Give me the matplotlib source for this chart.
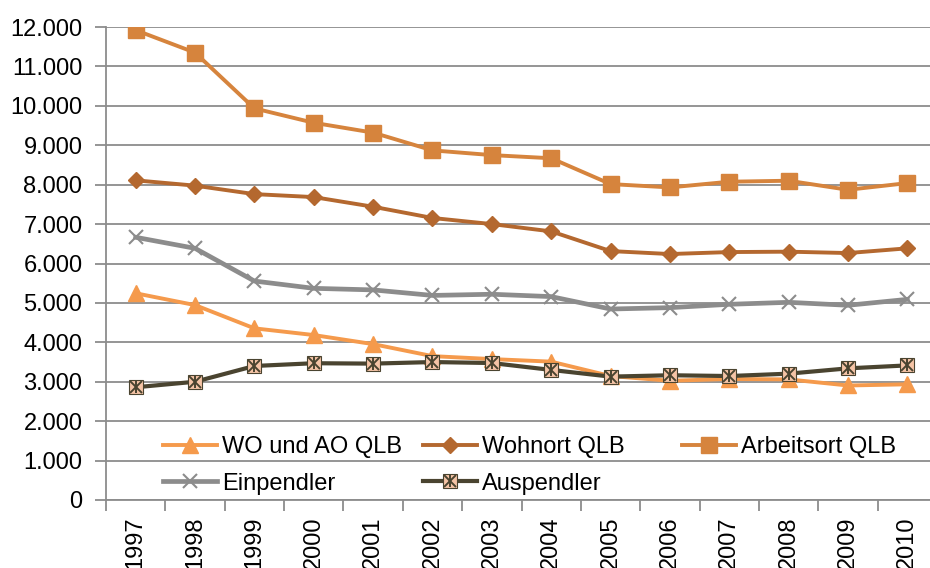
import numpy as np
import matplotlib
matplotlib.use('Agg')
import matplotlib.pyplot as plt
from matplotlib.ticker import FuncFormatter, FixedLocator
from matplotlib.legend_handler import HandlerTuple
from matplotlib.lines import Line2D

plt.rcParams['font.family'] = ['Liberation Sans', 'DejaVu Sans']

years = ['1997', '1998', '1999', '2000', '2001', '2002', '2003',
         '2004', '2005', '2006', '2007', '2008', '2009', '2010']

wo_ao = [5245, 4945, 4355, 4185, 3955, 3650, 3575, 3510, 3145, 3025, 3070, 3060, 2905, 2935]
wohnort = [8110, 7975, 7760, 7685, 7440, 7155, 7000, 6815, 6315, 6240, 6290, 6300, 6265, 6385]
arbeitsort = [11920, 11350, 9935, 9570, 9320, 8870, 8750, 8670, 8015, 7930, 8075, 8100, 7870, 8040]
einpendler = [6665, 6385, 5555, 5370, 5330, 5190, 5220, 5160, 4845, 4880, 4965, 5015, 4940, 5090]
auspendler = [2860, 3000, 3400, 3470, 3460, 3500, 3475, 3300, 3130, 3165, 3145, 3205, 3340, 3415]

x = np.arange(len(years))
grid_col = '#8c8c8c'
fs = 17

fig = plt.figure(figsize=(9.3, 5.68), dpi=100)
ax = fig.add_axes([106/930, 1 - 500/568, 831/930, 473/568])

l_wo, = ax.plot(x, wo_ao, color='#f59a4c', lw=2.8, marker='^', ms=11,
                mfc='#f59a4c', mec='#f59a4c', zorder=4)
l_wohn, = ax.plot(x, wohnort, color='#b4682f', lw=2.8, marker='D', ms=8.5,
                  mfc='#b4682f', mec='#b4682f', zorder=4)
l_arb, = ax.plot(x, arbeitsort, color='#d6843d', lw=2.8, marker='s', ms=11,
                 mfc='#d6843d', mec='#d6843d', zorder=4)
l_ein, = ax.plot(x, einpendler, color='#8c8c8c', lw=3.4, marker='x', ms=10,
                 mew=1.5, mec='#8c8c8c', zorder=4)
l_aus, = ax.plot(x, auspendler, color='#4a4430', lw=3.0, marker='s', ms=10,
                 mfc='#f5c4a6', mec='#4a4430', mew=0.8, zorder=5)
# star lines on top of the Auspendler squares
ax.plot(x, auspendler, ls='', marker='x', ms=9, mew=1.4, mec='#4a4430', zorder=6)
ax.plot(x, auspendler, ls='', marker='|', ms=9, mew=1.4, mec='#4a4430', zorder=6)

ax.set_xlim(-0.5, 13.5)
ax.set_ylim(0, 12000)
ax.set_yticks(np.arange(0, 12001, 1000))
ax.yaxis.set_major_formatter(FuncFormatter(lambda v, p: f'{int(v):,}'.replace(',', '.')))
ax.yaxis.grid(True, color=grid_col, lw=1.3)
ax.set_axisbelow(True)

ax.xaxis.set_major_locator(FixedLocator(np.arange(-0.5, 13.6, 1)))
ax.xaxis.set_minor_locator(FixedLocator(x))
ax.set_xticklabels([], minor=False)
ax.set_xticklabels(years, minor=True, rotation=90, va='top')
ax.tick_params(axis='x', which='major', length=8, width=1.3, color=grid_col, direction='out')
ax.tick_params(axis='x', which='minor', length=0, pad=12, labelsize=fs)
ax.tick_params(axis='y', length=8, width=1.3, color=grid_col, direction='out', labelsize=fs, pad=9)

for s in ['top', 'right']:
    ax.spines[s].set_visible(False)
ax.spines['left'].set_color(grid_col)
ax.spines['left'].set_linewidth(1.3)
ax.spines['bottom'].set_color(grid_col)
ax.spines['bottom'].set_linewidth(1.3)

# Excel style legend: three equal columns
star_x = Line2D([], [], ls='', marker='x', ms=9, mew=1.4, mec='#4a4430')
star_v = Line2D([], [], ls='', marker='|', ms=9, mew=1.4, mec='#4a4430')

top_y = 1 - 436/568
kw = dict(loc='upper left', frameon=False, fontsize=fs, handlelength=2.3,
          handletextpad=0.2, borderpad=0, borderaxespad=0, labelspacing=0.62,
          bbox_transform=fig.transFigure)
leg1 = ax.legend([l_wo, l_ein], ['WO und AO QLB', 'Einpendler'],
                 bbox_to_anchor=(163/930, top_y), **kw)
ax.add_artist(leg1)
leg2 = ax.legend([l_wohn, (l_aus, star_x, star_v)], ['Wohnort QLB', 'Auspendler'],
                 bbox_to_anchor=(423/930, top_y),
                 handler_map={tuple: HandlerTuple(ndivide=1)}, **kw)
ax.add_artist(leg2)
leg3 = ax.legend([l_arb], ['Arbeitsort QLB'],
                 bbox_to_anchor=(682/930, top_y), **kw)

fig.savefig('out.png', dpi=100)
